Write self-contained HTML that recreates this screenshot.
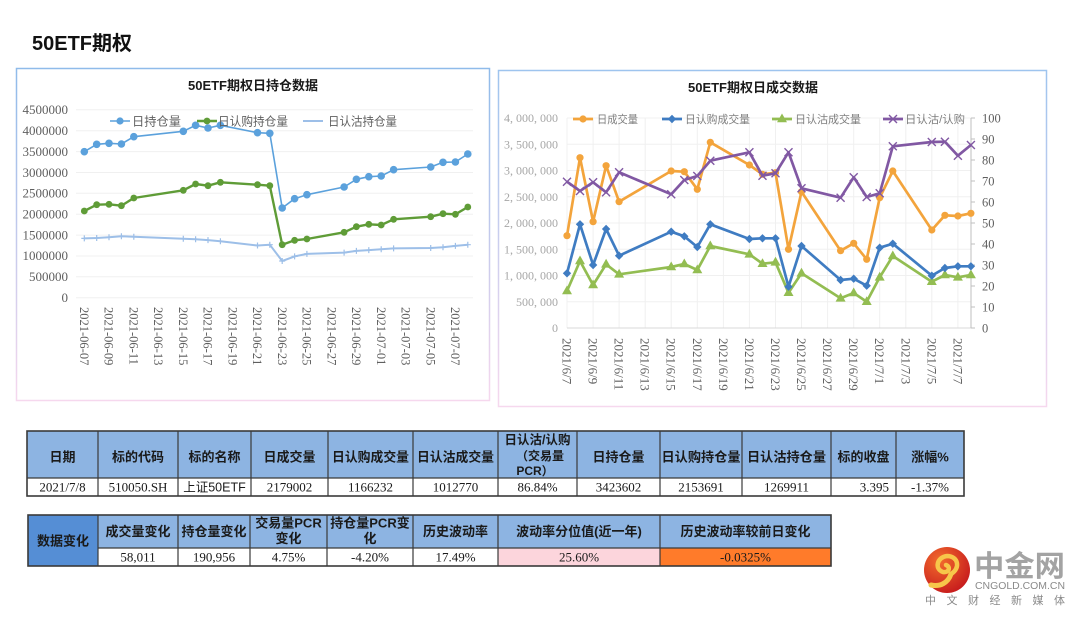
<!DOCTYPE html>
<html>
<head>
<meta charset="utf-8">
<style>
html,body{margin:0;padding:0;background:#fff;}
svg{display:block;}
.ser{font-family:"Liberation Serif","Noto Serif CJK SC",serif;}
.cjk{font-family:"Liberation Sans","Noto Sans CJK SC",sans-serif;}
</style>
</head>
<body>
<svg width="1080" height="618" viewBox="0 0 1080 618" xmlns="http://www.w3.org/2000/svg">
<defs>
  <linearGradient id="frameL" x1="0" y1="68" x2="0" y2="401" gradientUnits="userSpaceOnUse">
    <stop offset="0" stop-color="#8fbbea"/>
    <stop offset="1" stop-color="#f6d8ee"/>
  </linearGradient>
  <linearGradient id="frameR" x1="0" y1="70" x2="0" y2="407" gradientUnits="userSpaceOnUse">
    <stop offset="0" stop-color="#9ec4ee"/>
    <stop offset="1" stop-color="#f6d8ee"/>
  </linearGradient>
  <radialGradient id="logoG" cx="0.35" cy="0.3" r="0.8">
    <stop offset="0" stop-color="#f26b2c"/>
    <stop offset="1" stop-color="#c4161c"/>
  </radialGradient>
  <marker id="mLB" markerUnits="userSpaceOnUse" markerWidth="10" markerHeight="10" refX="5" refY="5" overflow="visible"><circle cx="5" cy="5" r="3.8" fill="#5ba1dc"/></marker>
  <marker id="mG" markerUnits="userSpaceOnUse" markerWidth="10" markerHeight="10" refX="5" refY="5" overflow="visible"><circle cx="5" cy="5" r="3.4" fill="#5f9c37"/></marker>
  <marker id="mP" markerUnits="userSpaceOnUse" markerWidth="10" markerHeight="10" refX="5" refY="5" overflow="visible"><path d="M2 5 H8 M5 2 V8" stroke="#9dbfe8" stroke-width="1.2"/></marker>
  <marker id="mO" markerUnits="userSpaceOnUse" markerWidth="10" markerHeight="10" refX="5" refY="5" overflow="visible"><circle cx="5" cy="5" r="3.6" fill="#f3a43c"/></marker>
  <marker id="mD" markerUnits="userSpaceOnUse" markerWidth="10" markerHeight="10" refX="5" refY="5" overflow="visible"><path d="M5 0.8 L9.2 5 L5 9.2 L0.8 5 Z" fill="#3f7cc2"/></marker>
  <marker id="mT" markerUnits="userSpaceOnUse" markerWidth="10" markerHeight="10" refX="5" refY="6" overflow="visible"><path d="M5 0.5 L10 9.3 L0 9.3 Z" fill="#93bd52"/></marker>
  <marker id="mX" markerUnits="userSpaceOnUse" markerWidth="10" markerHeight="10" refX="5" refY="5" overflow="visible"><path d="M1 1 L9 9 M9 1 L1 9" stroke="#8158a3" stroke-width="1.4"/></marker>
</defs>

<!-- Page title -->
<text x="32" y="50" class="cjk" font-size="20" font-weight="bold" fill="#111">50ETF期权</text>

<!-- ============ LEFT CHART ============ -->
<rect x="16.5" y="68.5" width="473" height="332" fill="#fff" stroke="url(#frameL)" stroke-width="1.5"/>
<text x="253" y="90" class="cjk" font-size="13" font-weight="bold" fill="#1a1a1a" text-anchor="middle">50ETF期权日持仓数据</text>

<g stroke="#f0f0f0" stroke-width="1">
  <line x1="76" y1="297.7" x2="473" y2="297.7"/>
  <line x1="76" y1="276.8" x2="473" y2="276.8"/>
  <line x1="76" y1="256.0" x2="473" y2="256.0"/>
  <line x1="76" y1="235.1" x2="473" y2="235.1"/>
  <line x1="76" y1="214.2" x2="473" y2="214.2"/>
  <line x1="76" y1="193.3" x2="473" y2="193.3"/>
  <line x1="76" y1="172.5" x2="473" y2="172.5"/>
  <line x1="76" y1="151.6" x2="473" y2="151.6"/>
  <line x1="76" y1="130.7" x2="473" y2="130.7"/>
  <line x1="76" y1="109.8" x2="473" y2="109.8"/>
</g>
<g class="ser" font-size="13" fill="#5f5f5f" text-anchor="end">
  <text x="68" y="302">0</text>
  <text x="68" y="281">500000</text>
  <text x="68" y="260">1000000</text>
  <text x="68" y="239.5">1500000</text>
  <text x="68" y="218.5">2000000</text>
  <text x="68" y="197.7">2500000</text>
  <text x="68" y="177">3000000</text>
  <text x="68" y="156">3500000</text>
  <text x="68" y="135">4000000</text>
  <text x="68" y="114">4500000</text>
</g>

<!-- left x labels -->
<g class="ser" font-size="12.5" fill="#5f5f5f">
  <text transform="translate(79.9,307) rotate(90)">2021-06-07</text>
  <text transform="translate(104.6,307) rotate(90)">2021-06-09</text>
  <text transform="translate(129.4,307) rotate(90)">2021-06-11</text>
  <text transform="translate(154.1,307) rotate(90)">2021-06-13</text>
  <text transform="translate(178.9,307) rotate(90)">2021-06-15</text>
  <text transform="translate(203.6,307) rotate(90)">2021-06-17</text>
  <text transform="translate(228.3,307) rotate(90)">2021-06-19</text>
  <text transform="translate(253.1,307) rotate(90)">2021-06-21</text>
  <text transform="translate(277.8,307) rotate(90)">2021-06-23</text>
  <text transform="translate(302.6,307) rotate(90)">2021-06-25</text>
  <text transform="translate(327.3,307) rotate(90)">2021-06-27</text>
  <text transform="translate(352.0,307) rotate(90)">2021-06-29</text>
  <text transform="translate(376.8,307) rotate(90)">2021-07-01</text>
  <text transform="translate(401.5,307) rotate(90)">2021-07-03</text>
  <text transform="translate(426.3,307) rotate(90)">2021-07-05</text>
  <text transform="translate(451.0,307) rotate(90)">2021-07-07</text>
</g>

<!-- left series -->
<polyline fill="none" stroke="#9dbfe8" stroke-width="2" stroke-linejoin="round" marker-start="url(#mP)" marker-mid="url(#mP)" marker-end="url(#mP)"
 points="84.3,238.4 96.7,238.0 109.0,237.2 121.4,236.3 133.8,236.7 183.3,238.8 195.6,239.2 208.0,240.1 220.4,241.3 257.5,245.5 269.8,244.7 282.2,261.0 294.6,256.4 306.9,253.9 344.1,252.6 356.4,250.9 368.8,250.1 381.2,249.3 393.6,248.4 430.7,248.0 443.0,247.2 455.4,245.9 467.8,244.7"/>
<polyline fill="none" stroke="#5f9c37" stroke-width="2.4" stroke-linejoin="round" marker-start="url(#mG)" marker-mid="url(#mG)" marker-end="url(#mG)"
 points="84.3,211 96.7,204.7 109.0,204.3 121.4,205.7 133.8,198 183.3,190.3 195.6,184 208.0,185.7 220.4,182.3 257.5,184.7 269.8,185.7 282.2,244.7 294.6,240.3 306.9,239 344.1,232.3 356.4,226.7 368.8,224.3 381.2,225 393.6,219.3 430.7,216.7 443.0,213.7 455.4,214.3 467.8,207"/>
<polyline fill="none" stroke="#5ba1dc" stroke-width="1.6" stroke-linejoin="round" marker-start="url(#mLB)" marker-mid="url(#mLB)" marker-end="url(#mLB)"
 points="84.3,151.7 96.7,144.3 109.0,143.3 121.4,144.0 133.8,136.7 183.3,131.3 195.6,125.3 208.0,128.0 220.4,125.3 257.5,132.7 269.8,133.3 282.2,208.0 294.6,198.7 306.9,194.7 344.1,187.0 356.4,179.3 368.8,176.7 381.2,176.0 393.6,169.7 430.7,167.0 443.0,162.3 455.4,162.0 467.8,154.0"/>

<!-- left legend -->
<g class="cjk" font-size="12" fill="#5f5f5f">
  <line x1="110" y1="121" x2="130" y2="121" stroke="#5ba1dc" stroke-width="1.6"/>
  <circle cx="120" cy="121" r="3.6" fill="#5ba1dc"/>
  <text x="132" y="125.5" textLength="49" lengthAdjust="spacingAndGlyphs">日持仓量</text>
  <line x1="197" y1="121" x2="217" y2="121" stroke="#5f9c37" stroke-width="2.4"/>
  <circle cx="207" cy="121" r="3.4" fill="#5f9c37"/>
  <text x="218" y="125.5" textLength="70" lengthAdjust="spacingAndGlyphs">日认购持仓量</text>
  <line x1="303" y1="121" x2="323" y2="121" stroke="#9dbfe8" stroke-width="2"/>
  <text x="328" y="125.5" textLength="69" lengthAdjust="spacingAndGlyphs">日认沽持仓量</text>
</g>

<!-- ============ RIGHT CHART ============ -->
<rect x="498.5" y="70.5" width="548" height="336" fill="#fff" stroke="url(#frameR)" stroke-width="1.5"/>
<text x="753" y="92" class="cjk" font-size="13" font-weight="bold" fill="#1a1a1a" text-anchor="middle">50ETF期权日成交数据</text>

<g stroke="#f0f0f0" stroke-width="1">
  <line x1="567" y1="301.75" x2="971" y2="301.75"/>
  <line x1="567" y1="275.5" x2="971" y2="275.5"/>
  <line x1="567" y1="249.25" x2="971" y2="249.25"/>
  <line x1="567" y1="223" x2="971" y2="223"/>
  <line x1="567" y1="196.75" x2="971" y2="196.75"/>
  <line x1="567" y1="170.5" x2="971" y2="170.5"/>
  <line x1="567" y1="144.25" x2="971" y2="144.25"/>
  <line x1="567" y1="118" x2="971" y2="118"/>
  <line x1="567" y1="118" x2="567" y2="328"/>
  <line x1="593.1" y1="118" x2="593.1" y2="328"/>
  <line x1="619.1" y1="118" x2="619.1" y2="328"/>
  <line x1="645.2" y1="118" x2="645.2" y2="328"/>
  <line x1="671.2" y1="118" x2="671.2" y2="328"/>
  <line x1="697.3" y1="118" x2="697.3" y2="328"/>
  <line x1="723.4" y1="118" x2="723.4" y2="328"/>
  <line x1="749.4" y1="118" x2="749.4" y2="328"/>
  <line x1="775.5" y1="118" x2="775.5" y2="328"/>
  <line x1="801.5" y1="118" x2="801.5" y2="328"/>
  <line x1="827.6" y1="118" x2="827.6" y2="328"/>
  <line x1="853.7" y1="118" x2="853.7" y2="328"/>
  <line x1="879.7" y1="118" x2="879.7" y2="328"/>
  <line x1="905.8" y1="118" x2="905.8" y2="328"/>
  <line x1="931.8" y1="118" x2="931.8" y2="328"/>
  <line x1="957.9" y1="118" x2="957.9" y2="328"/>
</g>
<line x1="567" y1="328" x2="971" y2="328" stroke="#d9d9d9" stroke-width="1"/>
<line x1="971" y1="118" x2="971" y2="328" stroke="#bfbfbf" stroke-width="1"/>
<g stroke="#bfbfbf" stroke-width="1">
  <line x1="971" y1="118" x2="975" y2="118"/><line x1="971" y1="139" x2="975" y2="139"/>
  <line x1="971" y1="160" x2="975" y2="160"/><line x1="971" y1="181" x2="975" y2="181"/>
  <line x1="971" y1="202" x2="975" y2="202"/><line x1="971" y1="223" x2="975" y2="223"/>
  <line x1="971" y1="244" x2="975" y2="244"/><line x1="971" y1="265" x2="975" y2="265"/>
  <line x1="971" y1="286" x2="975" y2="286"/><line x1="971" y1="307" x2="975" y2="307"/>
  <line x1="971" y1="328" x2="975" y2="328"/>
</g>

<g class="ser" font-size="12" fill="#a6a6a6" text-anchor="end">
  <text x="558" y="332">0</text>
  <text x="558" y="305.75">500, 000</text>
  <text x="558" y="279.5">1, 000, 000</text>
  <text x="558" y="253.25">1, 500, 000</text>
  <text x="558" y="227">2, 000, 000</text>
  <text x="558" y="200.75">2, 500, 000</text>
  <text x="558" y="174.5">3, 000, 000</text>
  <text x="558" y="148.25">3, 500, 000</text>
  <text x="558" y="122">4, 000, 000</text>
</g>
<g class="ser" font-size="12.5" fill="#5f5f5f">
  <text x="982" y="122.5">100</text>
  <text x="982" y="143.5">90</text>
  <text x="982" y="164.5">80</text>
  <text x="982" y="185.5">70</text>
  <text x="982" y="206.5">60</text>
  <text x="982" y="227.5">50</text>
  <text x="982" y="248.5">40</text>
  <text x="982" y="269.5">30</text>
  <text x="982" y="290.5">20</text>
  <text x="982" y="311.5">10</text>
  <text x="982" y="332.5">0</text>
</g>

<g class="ser" font-size="13" fill="#5f5f5f">
  <text transform="translate(562.5,338) rotate(90)">2021/6/7</text>
  <text transform="translate(588.6,338) rotate(90)">2021/6/9</text>
  <text transform="translate(614.6,338) rotate(90)">2021/6/11</text>
  <text transform="translate(640.7,338) rotate(90)">2021/6/13</text>
  <text transform="translate(666.7,338) rotate(90)">2021/6/15</text>
  <text transform="translate(692.8,338) rotate(90)">2021/6/17</text>
  <text transform="translate(718.9,338) rotate(90)">2021/6/19</text>
  <text transform="translate(744.9,338) rotate(90)">2021/6/21</text>
  <text transform="translate(771.0,338) rotate(90)">2021/6/23</text>
  <text transform="translate(797.0,338) rotate(90)">2021/6/25</text>
  <text transform="translate(823.1,338) rotate(90)">2021/6/27</text>
  <text transform="translate(849.2,338) rotate(90)">2021/6/29</text>
  <text transform="translate(875.2,338) rotate(90)">2021/7/1</text>
  <text transform="translate(901.3,338) rotate(90)">2021/7/3</text>
  <text transform="translate(927.3,338) rotate(90)">2021/7/5</text>
  <text transform="translate(953.4,338) rotate(90)">2021/7/7</text>
</g>

<!-- right series -->
<polyline fill="none" stroke="#93bd52" stroke-width="2.7" stroke-linejoin="round" marker-start="url(#mT)" marker-mid="url(#mT)" marker-end="url(#mT)"
 points="567,291 580.0,261 593.1,285 606.1,264.3 619.1,274.3 671.2,267 684.3,264 697.3,270 710.3,246 749.4,254.3 762.5,263.7 775.5,262.3 788.5,292.7 801.5,273.3 840.6,298.3 853.7,293 866.7,301.7 879.7,277.3 892.8,256 931.8,281.7 944.9,275 957.9,277.3 970.9,275"/>
<polyline fill="none" stroke="#3f7cc2" stroke-width="2.7" stroke-linejoin="round" marker-start="url(#mD)" marker-mid="url(#mD)" marker-end="url(#mD)"
 points="567,273.3 580.0,224.3 593.1,265 606.1,229 619.1,255.7 671.2,231.7 684.3,236.3 697.3,247 710.3,224.3 749.4,239 762.5,238.3 775.5,238.3 788.5,286.7 801.5,246 840.6,280 853.7,278.7 866.7,285.7 879.7,247.7 892.8,243.7 931.8,275.7 944.9,268 957.9,266.3 970.9,266.3"/>
<polyline fill="none" stroke="#f3a43c" stroke-width="2.7" stroke-linejoin="round" marker-start="url(#mO)" marker-mid="url(#mO)" marker-end="url(#mO)"
 points="567,235.7 580.0,157.7 593.1,221.7 606.1,165.7 619.1,201.7 671.2,171 684.3,171.7 697.3,189.3 710.3,142.3 749.4,165 762.5,174.3 775.5,172.7 788.5,249.3 801.5,191.7 840.6,250.7 853.7,243.3 866.7,259.3 879.7,197.7 892.8,171 931.8,230 944.9,215.3 957.9,216 970.9,213.3"/>
<polyline fill="none" stroke="#8158a3" stroke-width="2.7" stroke-linejoin="round" marker-start="url(#mX)" marker-mid="url(#mX)" marker-end="url(#mX)"
 points="567,181.7 580.0,191 593.1,182.3 606.1,192.3 619.1,172.3 671.2,194.3 684.3,180 697.3,176 710.3,160.7 749.4,152.3 762.5,175.7 775.5,173.3 788.5,152.3 801.5,188.3 840.6,197.7 853.7,177.3 866.7,197 879.7,193.3 892.8,146.3 931.8,142 944.9,141.7 957.9,155.7 970.9,145"/>

<!-- right legend -->
<g class="cjk" font-size="11" fill="#7f7f7f">
  <line x1="573" y1="119" x2="593" y2="119" stroke="#f3a43c" stroke-width="2.7"/>
  <circle cx="583" cy="119" r="3.6" fill="#f3a43c"/>
  <text x="597" y="123" textLength="41" lengthAdjust="spacingAndGlyphs">日成交量</text>
  <line x1="662" y1="119" x2="682" y2="119" stroke="#3f7cc2" stroke-width="2.7"/>
  <path d="M672 114.8 L676.2 119 L672 123.2 L667.8 119 Z" fill="#3f7cc2"/>
  <text x="685" y="123" textLength="65" lengthAdjust="spacingAndGlyphs">日认购成交量</text>
  <line x1="772" y1="119" x2="792" y2="119" stroke="#93bd52" stroke-width="2.7"/>
  <path d="M782 113.5 L787 122.3 L777 122.3 Z" fill="#93bd52"/>
  <text x="795" y="123" textLength="66" lengthAdjust="spacingAndGlyphs">日认沽成交量</text>
  <line x1="883" y1="119" x2="903" y2="119" stroke="#8158a3" stroke-width="2.7"/>
  <path d="M889 115 L897 123 M897 115 L889 123" stroke="#8158a3" stroke-width="1.4"/>
  <text x="905" y="123" textLength="60" lengthAdjust="spacingAndGlyphs">日认沽/认购</text>
</g>

<!-- ============ TABLE 1 ============ -->
<rect x="27" y="431" width="937" height="47" fill="#8db4e2"/>
<rect x="27" y="478" width="937" height="18" fill="#fff"/>
<g stroke="#3a3a3a" stroke-width="1.2" fill="none">
  <rect x="27" y="431" width="937" height="65" stroke-width="1.6"/>
  <line x1="27" y1="478" x2="964" y2="478"/>
  <line x1="98" y1="431" x2="98" y2="496"/>
  <line x1="178" y1="431" x2="178" y2="496"/>
  <line x1="251" y1="431" x2="251" y2="496"/>
  <line x1="328" y1="431" x2="328" y2="496"/>
  <line x1="413" y1="431" x2="413" y2="496"/>
  <line x1="498" y1="431" x2="498" y2="496"/>
  <line x1="577" y1="431" x2="577" y2="496"/>
  <line x1="660" y1="431" x2="660" y2="496"/>
  <line x1="742" y1="431" x2="742" y2="496"/>
  <line x1="831" y1="431" x2="831" y2="496"/>
  <line x1="896" y1="431" x2="896" y2="496"/>
</g>
<g class="cjk" font-size="13" font-weight="bold" fill="#1a1a1a" text-anchor="middle">
  <text x="62.5" y="461.5">日期</text>
  <text x="138" y="461.5">标的代码</text>
  <text x="214.5" y="461.5">标的名称</text>
  <text x="289.5" y="461.5">日成交量</text>
  <text x="370.5" y="461.5" textLength="77" lengthAdjust="spacingAndGlyphs">日认购成交量</text>
  <text x="455.5" y="461.5" textLength="77" lengthAdjust="spacingAndGlyphs">日认沽成交量</text>
  <text x="537.5" y="444" font-size="12.5">日认沽/认购</text>
  <text x="540" y="460" font-size="12">（交易量</text>
  <text x="535" y="475" font-size="12">PCR）</text>
  <text x="618.5" y="461.5">日持仓量</text>
  <text x="701" y="461.5" textLength="79" lengthAdjust="spacingAndGlyphs">日认购持仓量</text>
  <text x="786.5" y="461.5" textLength="79" lengthAdjust="spacingAndGlyphs">日认沽持仓量</text>
  <text x="863.5" y="461.5">标的收盘</text>
  <text x="930" y="461.5">涨幅%</text>
</g>
<g class="ser" font-size="13" fill="#1a1a1a" text-anchor="middle">
  <text x="62.5" y="491.5">2021/7/8</text>
  <text x="138" y="491.5">510050.SH</text>
  <text x="214.5" y="491.5" class="cjk" font-size="12.5">上证50ETF</text>
  <text x="289.5" y="491.5">2179002</text>
  <text x="370.5" y="491.5">1166232</text>
  <text x="455.5" y="491.5">1012770</text>
  <text x="537.5" y="491.5">86.84%</text>
  <text x="618.5" y="491.5">3423602</text>
  <text x="701" y="491.5">2153691</text>
  <text x="786.5" y="491.5">1269911</text>
  <text x="889" y="491.5" text-anchor="end">3.395</text>
  <text x="930" y="491.5">-1.37%</text>
</g>

<!-- ============ TABLE 2 ============ -->
<rect x="28" y="515" width="70" height="51" fill="#558ed5"/>
<rect x="98" y="515" width="733" height="33" fill="#8db4e2"/>
<rect x="98" y="548" width="400" height="18" fill="#fff"/>
<rect x="498" y="548" width="162" height="18" fill="#fcd5dc"/>
<rect x="660" y="548" width="171" height="18" fill="#ff7b2a"/>
<g stroke="#3a3a3a" stroke-width="1.2" fill="none">
  <rect x="28" y="515" width="803" height="51" stroke-width="1.6"/>
  <line x1="98" y1="548" x2="831" y2="548"/>
  <line x1="98" y1="515" x2="98" y2="566"/>
  <line x1="178" y1="515" x2="178" y2="566"/>
  <line x1="250" y1="515" x2="250" y2="566"/>
  <line x1="327" y1="515" x2="327" y2="566"/>
  <line x1="413" y1="515" x2="413" y2="566"/>
  <line x1="498" y1="515" x2="498" y2="566"/>
  <line x1="660" y1="515" x2="660" y2="566"/>
</g>
<g class="cjk" font-size="13" font-weight="bold" fill="#1a1a1a" text-anchor="middle">
  <text x="63" y="545.5">数据变化</text>
  <text x="138" y="536">成交量变化</text>
  <text x="214" y="536">持仓量变化</text>
  <text x="288.5" y="527.5">交易量PCR</text>
  <text x="288.5" y="543">变化</text>
  <text x="370" y="527.5">持仓量PCR变</text>
  <text x="370" y="543">化</text>
  <text x="455.5" y="536">历史波动率</text>
  <text x="579" y="536">波动率分位值(近一年)</text>
  <text x="745.5" y="536">历史波动率较前日变化</text>
</g>
<g class="ser" font-size="13" fill="#1a1a1a" text-anchor="middle">
  <text x="138" y="561.5">58,011</text>
  <text x="214" y="561.5">190,956</text>
  <text x="288.5" y="561.5">4.75%</text>
  <text x="370" y="561.5">-4.20%</text>
  <text x="455.5" y="561.5">17.49%</text>
  <text x="579" y="561.5">25.60%</text>
  <text x="745.5" y="561.5">-0.0325%</text>
</g>

<!-- ============ LOGO ============ -->
<circle cx="947" cy="570" r="23" fill="url(#logoG)"/>
<path d="M951 574 C 961 568, 958 556, 947 556 C 937 557, 934 569, 943 572 C 949 573, 951 567, 946 565" stroke="#f7c64a" stroke-width="4.5" fill="none" stroke-linecap="round"/>
<path d="M951 574 C 948 583, 940 587, 931 585" stroke="#f7c64a" stroke-width="5" fill="none" stroke-linecap="round"/>
<text x="974" y="576" class="cjk" font-size="29" font-weight="bold" fill="#a3a3a3" textLength="91" lengthAdjust="spacingAndGlyphs">中金网</text>
<text x="975" y="589" font-family="Liberation Sans, sans-serif" font-size="10" fill="#8a8a8a" textLength="90" lengthAdjust="spacingAndGlyphs">CNGOLD.COM.CN</text>
<text x="925" y="604" class="cjk" font-size="11" fill="#8a8a8a" textLength="140" lengthAdjust="spacing">中文财经新媒体</text>
</svg>
</body>
</html>
